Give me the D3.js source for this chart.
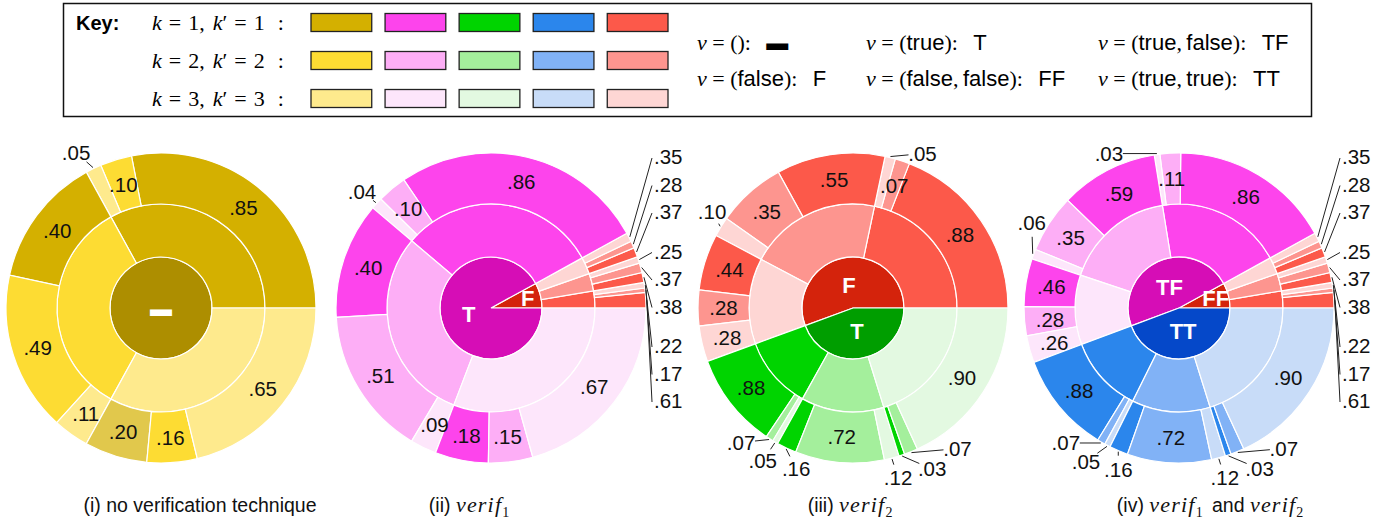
<!DOCTYPE html>
<meta charset="utf-8">
<style>
body { margin: 0; background: #fff; }
svg text { font-family: "Liberation Sans", Arial, sans-serif; }
.num { font-size: 20.5px; fill: #111; }
.lead { stroke: #222; stroke-width: 1; fill: none; }
.ctr { font-size: 22px; font-weight: bold; fill: #fff; }
.serif { font-family: "Liberation Serif", "DejaVu Serif", serif; }
</style>
<svg width="1387" height="525"></svg>
<script src="https://d3js.org/d3.v7.min.js"></script>
<script>

// colours: k (or k') = 1, 2, 3 for each family, plus the darker centre colour
var shades = {
  gold:    ["#d4b000", "#fddc33", "#feea8d"],
  magenta: ["#fd44ec", "#fdaef6", "#fde6fb"],
  green:   ["#00d400", "#a4ef9c", "#e3f9e1"],
  blue:    ["#2b86ec", "#81b2f6", "#c8dcf8"],
  red:     ["#fc594a", "#fd958f", "#fed6d4"]
};
var core = { gold: "#ad8e00", magenta: "#d60db6", green: "#009e00", blue: "#0548c9", red: "#d4230c" };
var legendFamilies = ["gold", "magenta", "green", "blue", "red"];

// (i) no verification technique
var c1Names = ["\u25ac"];
var c1Family = ["gold"];
var c1Share = [1];
var c1K = [[.33, .34, .33]];
var c1Kp = [[[.85, .10, .05], [.40, .49, .11], [.20, .16, .65]]];

// (ii) verif_1
var c2Names = ["F", "T"];
var c2Family = ["red", "magenta"];
var c2Share = [.08, .92];
var c2K = [[.33, .34, .33], [.335, .33, .335]];
var c2Kp = [[[.61, .17, .22], [.38, .37, .25], [.37, .28, .35]],
            [[.86, .10, .04], [.40, .51, .09], [.18, .15, .67]]];

// (iii) verif_2
var c3Names = ["F", "T"];
var c3Family = ["red", "green"];
var c3Share = [.556, .444];
var c3K = [[.39, .37, .24], [.255, .29, .455]];
var c3Kp = [[[.88, .07, .05], [.55, .35, .10], [.44, .28, .28]],
            [[.88, .07, .05], [.16, .72, .12], [.03, .07, .90]]];

// (iv) verif_1 and verif_2
var c4Names = ["FF", "TF", "TT"];
var c4Family = ["red", "magenta", "blue"];
var c4Share = [.08, .477, .443];
var c4K = [[.33, .34, .33], [.41, .363, .227], [.27, .275, .455]];
var c4Kp = [[[.61, .17, .22], [.38, .37, .25], [.37, .28, .35]],
            [[.86, .11, .03], [.59, .35, .06], [.46, .28, .26]],
            [[.88, .07, .05], [.16, .72, .12], [.03, .07, .90]]];

// labels that sit outside the ring: offset of the label from the slice edge
var c1Out = { "\u25ac/1/3": [-17, -15] };
var c2Out = { "T/1/3": [-14, -11] };
var c3Out = { "F/1/3": [32, -3], "F/2/3": [-8, -15], "T/1/2": [-28, 3], "T/1/3": [-12, 18],
              "T/2/1": [10, 20], "T/2/3": [6, 19], "T/3/1": [30, 13], "T/3/2": [46, -4] };
var c4Out = { "TF/1/3": [-48, 0], "TF/2/3": [-1, -31], "TT/1/2": [-35, 0], "TT/1/3": [-21, 15],
              "TT/2/1": [0, 18], "TT/2/3": [6, 19], "TT/3/1": [31, 13], "TT/3/2": [46, -4] };

var captionTags = ["(i)", "(ii)", "(iii)", "(iv)"];
var captionVerif = [[], [1], [2], [1, 2]];

var keyLevels = [1, 2, 3];
var vItems = [[], [false], [true], [false, false], [true, false], [true, true]];

var charts = [
  { names: c1Names, fam: c1Family, share: c1Share, k: c1K, kp: c1Kp, out: c1Out, column: null, faded: ["\u25ac/3/1"] },
  { names: c2Names, fam: c2Family, share: c2Share, k: c2K, kp: c2Kp, out: c2Out, column: "F", faded: [] },
  { names: c3Names, fam: c3Family, share: c3Share, k: c3K, kp: c3Kp, out: c3Out, column: null, faded: [] },
  { names: c4Names, fam: c4Family, share: c4Share, k: c4K, kp: c4Kp, out: c4Out, column: "FF", faded: [] }
];

var svg = d3.select("svg");
var centersX = [161, 491, 853, 1179], cy = 308;
var captionX = [200, 471, 852, 1212];
var ring = [0, 51, 104, 155];

var angle = d3.scaleLinear().domain([0, 1]).range([Math.PI / 2, Math.PI / 2 - 2 * Math.PI]);
var arc = d3.arc()
    .startAngle(function(d) { return angle(d.x0); })
    .endAngle(function(d) { return angle(d.x1); })
    .innerRadius(function(d) { return ring[d.depth - 1]; })
    .outerRadius(function(d) { return ring[d.depth]; });

var fmt = function(v) { return d3.format(".2f")(v).replace(/^0/, ""); };
function polar(r, a) { return [r * Math.sin(a), -r * Math.cos(a)]; }

var SP = "\u2005", EN = "\u2002", TH = "\u2009";

charts.forEach(function(c, ci) {
  var data = { children: c.names.map(function(n, i) {
    return { name: n, fam: c.fam[i], children: c.k[i].map(function(ks, k) {
      var row = c.kp[i][k], tot = d3.sum(row);
      return { name: n + "/" + (k + 1), fam: c.fam[i], level: k, children: row.map(function(p, kp) {
        return { name: n + "/" + (k + 1) + "/" + (kp + 1), top: n, fam: c.fam[i], level: kp,
                 share: p, size: c.share[i] * ks * p / tot };
      }) };
    }) };
  }) };

  var root = d3.hierarchy(data).sum(function(d) { return d.size || 0; });
  d3.partition()(root);
  var nodes = root.descendants().filter(function(d) { return d.depth > 0; });

  var g = svg.append("g").attr("transform", "translate(" + centersX[ci] + "," + cy + ")");

  g.selectAll("path")
    .data(nodes)
    .enter().append("path")
      .attr("d", arc)
      .attr("fill", function(d) { return d.depth === 1 ? core[d.data.fam] : shades[d.data.fam][d.data.level]; })
      .attr("fill-opacity", function(d) { return c.faded.indexOf(d.data.name) >= 0 ? 0.7 : 1; })
      .attr("stroke", "#fff")
      .attr("stroke-width", 1.2);

  // centre labels
  nodes.filter(function(d) { return d.depth === 1; }).forEach(function(d) {
    var span = d.x1 - d.x0;
    var r = span > 0.999 ? 0 : (span < 0.2 ? 38 : 23);
    var p = polar(r, angle((d.x0 + d.x1) / 2));
    g.append("text").attr("class", "ctr")
      .attr("x", p[0]).attr("y", p[1]).attr("dy", "0.36em")
      .attr("text-anchor", "middle")
      .text(d.data.name);
  });

  // leaf labels
  var leaves = nodes.filter(function(d) { return d.depth === 3; });
  leaves.forEach(function(d) {
    var a = angle((d.x0 + d.x1) / 2);
    if (c.column && d.data.top === c.column) return;
    var off = c.out[d.data.name];
    if (off) {
      var e = polar(ring[3] + 1, a);
      var lx = e[0] + off[0], ly = e[1] + off[1];
      var len = Math.sqrt(off[0] * off[0] + off[1] * off[1]);
      var f = Math.max(0, (len - 14) / len);
      g.append("line").attr("class", "lead")
        .attr("x1", e[0]).attr("y1", e[1])
        .attr("x2", e[0] + off[0] * f).attr("y2", e[1] + off[1] * f);
      g.append("text").attr("class", "num")
        .attr("x", lx).attr("y", ly).attr("dy", "0.36em")
        .attr("text-anchor", "middle").text(fmt(d.data.share));
    } else {
      var p = arc.centroid(d);
      g.append("text").attr("class", "num")
        .attr("x", p[0]).attr("y", p[1]).attr("dy", "0.36em")
        .attr("text-anchor", "middle").text(fmt(d.data.share));
    }
  });

  // stacked column of labels for the narrow wedge on the right
  if (c.column) {
    var col = leaves.filter(function(d) { return d.data.top === c.column; })
      .sort(function(a, b) { return b.x0 - a.x0; });
    col.forEach(function(d, i) {
      var ly = -151 + i * 27.5 + Math.floor(i / 3) * 12;
      var e = polar(ring[3] + 1, angle((d.x0 + d.x1) / 2));
      g.append("line").attr("class", "lead")
        .attr("x1", e[0]).attr("y1", e[1])
        .attr("x2", 161).attr("y2", ly + 1);
      g.append("text").attr("class", "num")
        .attr("x", 163).attr("y", ly).attr("dy", "0.36em")
        .text(fmt(d.data.share));
    });
  }

  // caption
  var cap = svg.append("text")
    .attr("x", captionX[ci]).attr("y", 512)
    .attr("text-anchor", "middle")
    .style("font-size", "19.5px").style("fill", "#111").style("white-space", "pre");
  cap.append("tspan").text(captionTags[ci] + " ");
  if (captionVerif[ci].length === 0) cap.append("tspan").text("no verification technique");
  captionVerif[ci].forEach(function(v, j) {
    if (j > 0) cap.append("tspan").text(" and ");
    cap.append("tspan").attr("class", "serif").style("font-style", "italic")
      .style("font-size", "22px").style("letter-spacing", "1.2px").text("verif");
    cap.append("tspan").attr("class", "serif").style("font-size", "14px").attr("dy", 5).text(v);
    cap.append("tspan").attr("dy", -5).text(TH);
  });
});

// ---- key ----
var key = svg.append("g");
key.append("rect")
  .attr("x", 63.5).attr("y", 3.5).attr("width", 1248).attr("height", 113)
  .attr("fill", "none").attr("stroke", "#111").attr("stroke-width", 1.5);
key.append("text").attr("x", 76).attr("y", 30)
  .style("font-size", "20px").style("font-weight", "bold").text("Key:");

var rowY = d3.scalePoint().domain(keyLevels).range([22.5, 98.5]);
var swX = d3.scaleBand().domain(legendFamilies).range([311, 668]).paddingInner(0.18).paddingOuter(0);

keyLevels.forEach(function(lv, i) {
  var t = key.append("text").attr("class", "serif")
    .attr("x", 152).attr("y", rowY(lv) + 7)
    .style("font-size", "22px");
  // [text, italic, gap before]
  [["k", true, 0], ["=", false, 7], [String(lv), false, 7], [",", false, 0],
   ["k", true, 8], ["\u2032", false, 0], ["=", false, 7], [String(lv), false, 7], [":", false, 13]]
    .forEach(function(p) {
      t.append("tspan").attr("dx", p[2]).style("font-style", p[1] ? "italic" : "normal").text(p[0]);
    });

  key.selectAll(null)
    .data(legendFamilies)
    .enter().append("rect")
      .attr("x", function(f) { return swX(f); })
      .attr("y", rowY(lv) - 9)
      .attr("width", swX.bandwidth())
      .attr("height", 18)
      .attr("fill", function(f) { return shades[f][i]; })
      .attr("stroke", "#222").attr("stroke-width", 1.3);
});

var vColX = [697, 866, 1098], vRowY = [50, 86];
vItems.forEach(function(v, i) {
  var t = key.append("text")
    .attr("x", vColX[Math.floor(i / 2)]).attr("y", vRowY[i % 2])
    .style("font-size", "22px").style("white-space", "pre");
  t.append("tspan").attr("class", "serif").style("font-style", "italic").text("v");
  t.append("tspan").attr("class", "serif").text(SP + "=" + SP + "(");
  v.forEach(function(b, j) {
    if (j > 0) t.append("tspan").attr("class", "serif").text("," + TH);
    t.append("tspan").text(b ? "true" : "false");
  });
  t.append("tspan").attr("class", "serif").text("):" + EN + TH);
  t.append("tspan").text(v.map(function(b) { return b ? "T" : "F"; }).join("") || "\u25ac");
});

</script>
